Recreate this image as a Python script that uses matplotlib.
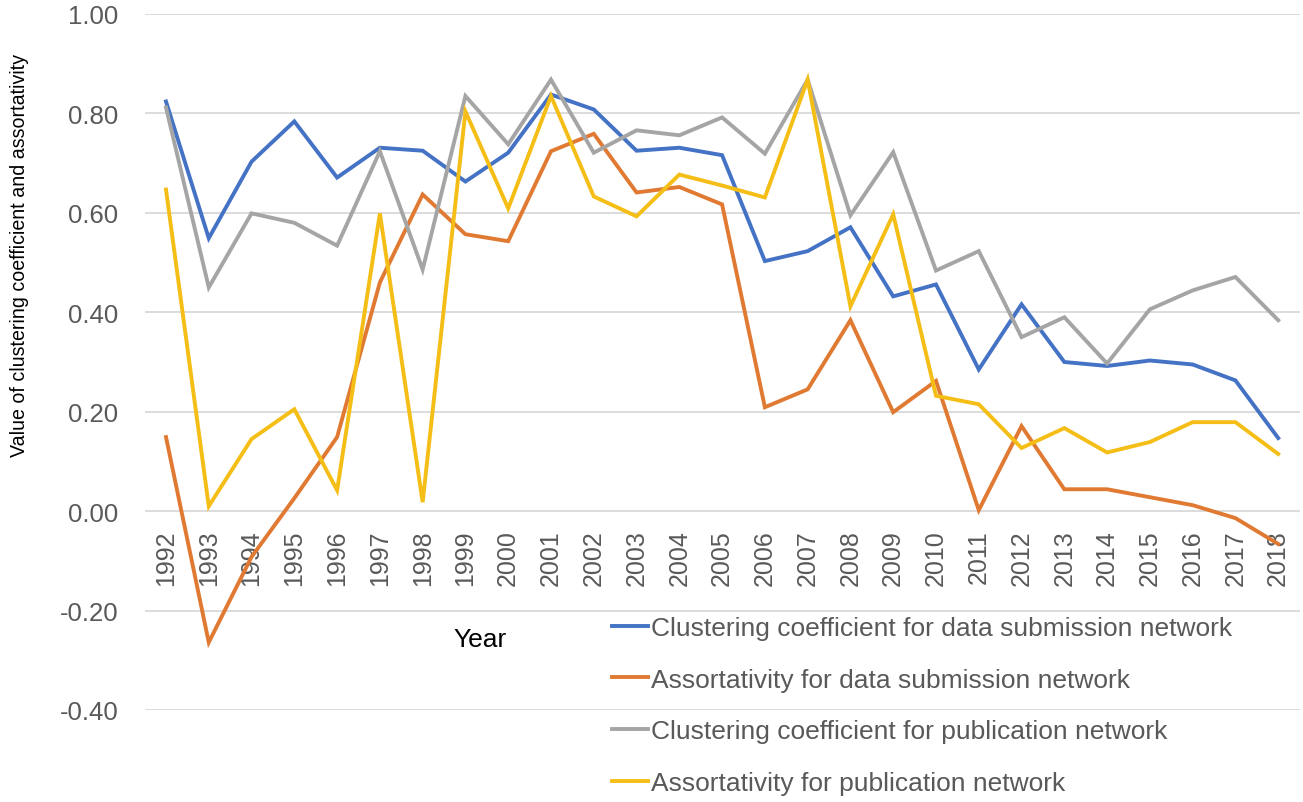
import matplotlib
matplotlib.use("Agg")
import matplotlib.pyplot as plt
import numpy as np

plt.rcParams["font.family"] = ["Liberation Sans", "DejaVu Sans"]
plt.rcParams["axes.unicode_minus"] = False

years = [str(y) for y in range(1992, 2019)]

clust_submission = [0.824, 0.549, 0.703, 0.784, 0.671, 0.731, 0.725, 0.663, 0.721, 0.838,
                    0.808, 0.725, 0.731, 0.716, 0.503, 0.523, 0.571, 0.432, 0.456, 0.285,
                    0.416, 0.300, 0.292, 0.303, 0.295, 0.263, 0.147]
assort_submission = [0.149, -0.264, -0.092, 0.026, 0.149, 0.460, 0.637, 0.557, 0.543, 0.724,
                     0.759, 0.641, 0.652, 0.617, 0.209, 0.245, 0.384, 0.199, 0.262, 0.002,
                     0.171, 0.044, 0.044, 0.028, 0.012, -0.014, -0.066]
clust_publication = [0.812, 0.450, 0.599, 0.580, 0.534, 0.724, 0.486, 0.835, 0.738, 0.868,
                     0.721, 0.766, 0.756, 0.792, 0.719, 0.868, 0.595, 0.722, 0.484, 0.523,
                     0.350, 0.390, 0.297, 0.406, 0.444, 0.471, 0.384]
assort_publication = [0.647, 0.010, 0.145, 0.205, 0.042, 0.599, 0.018, 0.804, 0.609, 0.835,
                      0.633, 0.593, 0.677, 0.655, 0.631, 0.868, 0.412, 0.597, 0.232, 0.215,
                      0.127, 0.167, 0.118, 0.139, 0.179, 0.179, 0.115]

series_labels = [
    "Clustering coefficient for data submission network",
    "Assortativity for data submission network",
    "Clustering coefficient for publication network",
    "Assortativity for publication network",
]
colors = ["#4472C4", "#E07A33", "#A5A5A5", "#F5BE17"]

W, H = 1303, 803
fig = plt.figure(figsize=(W / 100, H / 100), dpi=100)
ax = fig.add_axes([144.6 / W, 1 - 711 / H, 1155 / W, 696 / H])

x = np.arange(len(years))
for vals, lbl, col in zip(
    [clust_submission, assort_submission, clust_publication, assort_publication],
    series_labels, colors,
):
    ax.plot(x, vals, color=col, lw=2.8, label=lbl, solid_joinstyle="miter", zorder=3)

ax.set_xlim(-0.5, len(years) - 0.5)
ax.set_ylim(-0.4, 1.0)
ax.set_yticks(np.arange(-0.4, 1.01, 0.2))
ax.set_yticklabels([f"{v:.2f}" for v in np.arange(-0.4, 1.01, 0.2)])
for v in np.arange(-0.4, 1.01, 0.2):
    ax.axhline(v, color="#D9D9D9", lw=1.3, zorder=1)

# category labels sit under the zero line, like the Excel original
ax.spines["bottom"].set_position(("data", 0))
for s in ["top", "right", "left", "bottom"]:
    ax.spines[s].set_visible(False)
ax.set_xticks(x)
ax.set_xticklabels(years, rotation=90)
ax.tick_params(axis="x", length=0, pad=13, labelsize=18, labelcolor="#595959")
ax.tick_params(axis="y", length=0, pad=19, labelsize=18.5, labelcolor="#595959")

fig.text(20 / W, 1 - 255 / H, "Value of clustering coefficient and assortativity",
         rotation=90, ha="center", va="center", fontsize=14.1, color="black")
fig.text(480 / W, 1 - 640 / H, "Year", ha="center", va="center", fontsize=19, color="black")

ax.legend(loc="upper left", bbox_to_anchor=(612 / W, 1 - 617 / H),
          bbox_transform=fig.transFigure, frameon=False, fontsize=19,
          handlelength=1.37, handletextpad=0.12, labelspacing=1.05,
          borderpad=0, borderaxespad=0, labelcolor="#595959")

fig.savefig("out.png", dpi=100)
